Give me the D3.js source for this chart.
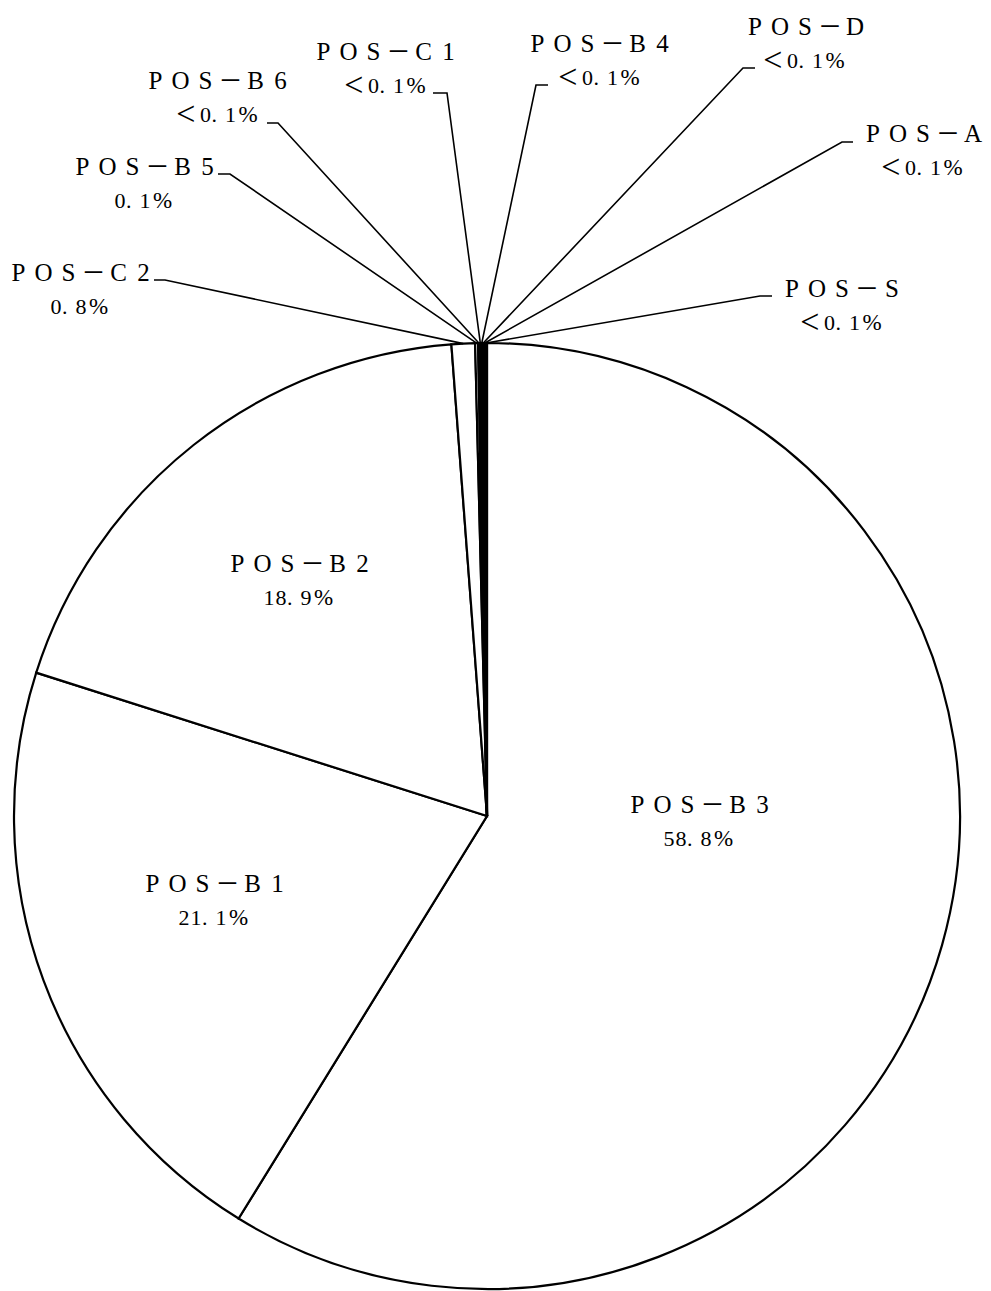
<!DOCTYPE html>
<html>
<head>
<meta charset="utf-8">
<script src="https://cdn.jsdelivr.net/npm/d3@7"></script>
<style>
  html, body { margin: 0; padding: 0; background: #fff; }
  svg { display: block; }
</style>
</head>
<body>
<div id="chart"></div>
<script>
// ---- data ----
const categories = ["POS－B3", "POS－B1", "POS－B2", "POS－C2", "POS－B5", "POS－B6", "POS－C1", "POS－B4", "POS－D", "POS－A", "POS－S"];
const values = [58.8, 21.1, 18.9, 0.8, 0.1, 0.05, 0.05, 0.05, 0.05, 0.05, 0.05];
const valueLabels = ["58.8%", "21.1%", "18.9%", "0.8%", "0.1%", "<0.1%", "<0.1%", "<0.1%", "<0.1%", "<0.1%", "<0.1%"];

// ---- layout (label placement, separate from data) ----
const labelLayout = [
  { cx: 700, y: 813 },
  { cx: 215, y: 892 },
  { cx: 300, y: 572 },
  { cx: 81,  y: 281, hook: [165, 280, 154] },
  { cx: 145, y: 175, hook: [230, 174, 218] },
  { cx: 218, y: 89,  hook: [278, 123, 267] },
  { cx: 386, y: 60,  hook: [447, 93, 433] },
  { cx: 600, y: 52,  hook: [536, 85, 548] },
  { cx: 805, y: 35,  hook: [743, 68, 755] },
  { cx: 923, y: 142, hook: [842, 142, 853] },
  { cx: 842, y: 297, hook: [760, 296, 772] }
];

const W = 991, H = 1291;
const cx = 487, cy = 816, R = 473;

const svg = d3.select("#chart").append("svg")
  .attr("width", W).attr("height", H);

const pie = d3.pie().sort(null).value(d => d).startAngle(0).endAngle(2 * Math.PI);
const arcs = pie(values);
const arc = d3.arc().innerRadius(0).outerRadius(R);

const g = svg.append("g").attr("transform", `translate(${cx},${cy})`);
g.selectAll("path.slice").data(arcs).enter().append("path")
  .attr("class", "slice")
  .attr("d", arc)
  .attr("fill", "#fff")
  .attr("stroke", "#000")
  .attr("stroke-width", 2.2)
  .attr("stroke-linejoin", "miter");

// leader lines
const leaders = svg.append("g");
arcs.forEach((a, i) => {
  const L = labelLayout[i];
  if (!L.hook) return;
  const mid = (a.startAngle + a.endAngle) / 2;
  const px = cx + R * Math.sin(mid);
  const py = cy - R * Math.cos(mid);
  const [hx, hy, hx2] = L.hook;
  leaders.append("path")
    .attr("d", d3.line()([[px, py], [hx, hy], [hx2, hy]]))
    .attr("fill", "none")
    .attr("stroke", "#000")
    .attr("stroke-width", 1.6);
});

// text helpers
const serif = "Liberation Serif, DejaVu Serif, Noto Sans CJK JP, serif";

function drawCells(parent, str, cellFn, centerX, baseY, sizeFn, dyFn) {
  const chars = Array.from(str);
  const cells = chars.map(cellFn);
  const total = d3.sum(cells, c => c.w);
  let x = centerX - total / 2;
  const t = parent.append("text")
    .attr("font-family", serif)
    .attr("fill", "#000")
    .attr("text-anchor", "middle");
  chars.forEach((ch, i) => {
    const c = cells[i];
    t.append("tspan")
      .attr("x", x + c.w * c.pos)
      .attr("y", baseY + dyFn(ch))
      .attr("font-size", sizeFn(ch))
      .text(ch);
    x += c.w;
  });
  return t;
}

const nameCell = ch => ({ w: 25, pos: 0.5 });
const nameSize = ch => (ch === "－" ? 24 : 25);
const pctCell = ch => {
  if (ch === ".") return { w: 13, pos: 0.22 };
  if (ch === "%") return { w: 23, pos: 0.5 };
  if (ch === "<") return { w: 25, pos: 0.45 };
  return { w: 12, pos: 0.5 };
};
const pctSize = ch => (ch === "<" ? 34 : (ch === "%" ? 23 : 22));
const pctDy = ch => (ch === "<" ? 3 : 0);

const labels = svg.append("g");
categories.forEach((name, i) => {
  const L = labelLayout[i];
  const grp = labels.append("g");
  drawCells(grp, name, nameCell, L.cx, L.y, nameSize, () => 0);
  drawCells(grp, valueLabels[i], pctCell, L.cx - 1, L.y + 33, pctSize, pctDy);
});
</script>
</body>
</html>
